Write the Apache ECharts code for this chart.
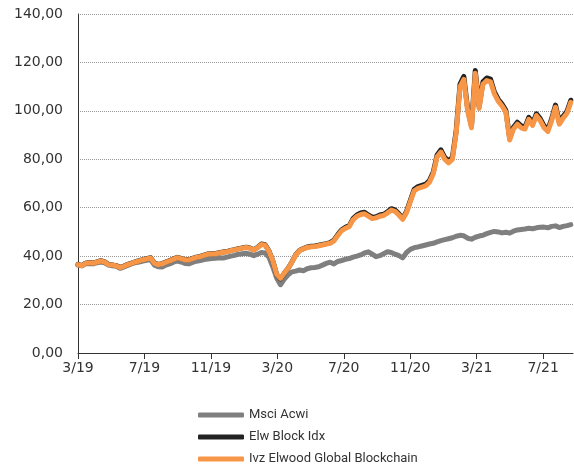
<!DOCTYPE html>
<html>
<head>
<meta charset="utf-8">
<script src="https://cdn.jsdelivr.net/npm/echarts@6/dist/echarts.min.js"></script>
<style>
html,body{margin:0;padding:0;background:#fff;}
#chart{width:574px;height:466px;}
</style>
</head>
<body>
<div id="chart"></div>
<script>
// Tick labels on the x axis (every 4 months starting 3/2019)
var xTickLabels = ['3/19','7/19','11/19','3/20','7/20','11/20','3/21','7/21'];
var seriesNames = ['Msci Acwi','Elw Block Idx','Ivz Elwood Global Blockchain'];

// Weekly values starting March 2019
var msciAcwi = [
 36.3,36.0,36.8,37.0,36.8,37.3,37.6,37.2,36.3,36.0,
 35.8,35.0,35.5,36.2,36.8,37.3,37.6,38.0,38.3,38.6,
 36.3,35.6,35.5,36.3,36.8,37.5,38.0,37.6,37.0,36.8,
 37.4,37.9,38.2,38.6,38.8,39.0,39.1,39.3,39.2,39.6,
 40.0,40.3,40.8,41.0,41.2,40.8,40.2,40.8,41.5,41.3,
 39.5,35.5,31.0,28.2,30.5,32.3,33.5,33.8,34.3,34.0,
 34.8,35.2,35.3,35.6,36.3,37.0,37.5,36.8,37.8,38.2,
 38.7,39.0,39.6,40.0,40.5,41.3,41.8,40.8,39.8,40.2,
 41.0,41.8,41.5,40.8,40.2,39.3,41.5,42.8,43.5,43.8,
 44.2,44.6,45.0,45.3,45.9,46.4,46.8,47.2,47.6,48.2,
 48.6,48.4,47.4,47.0,47.8,48.3,48.6,49.3,49.8,50.2,
 50.0,49.6,49.9,49.5,50.3,50.8,51.0,51.2,51.5,51.3,
 51.7,51.9,52.0,51.7,52.3,52.5,51.8,52.3,52.6,53.0
];
var elwBlockIdx = [
 36.6,36.1,37.1,37.4,37.1,37.7,38.1,37.6,36.6,36.4,
 36.1,35.4,35.9,36.6,37.1,37.7,38.1,38.6,39.0,39.4,
 37.1,36.6,36.9,37.6,38.1,38.9,39.5,39.1,38.6,38.5,
 39.1,39.6,39.9,40.4,40.9,41.0,41.1,41.4,41.7,41.9,
 42.4,42.7,43.1,43.4,43.7,43.4,42.6,43.6,45.0,44.7,
 42.1,38.0,32.4,30.6,32.9,35.0,37.6,40.6,42.4,43.1,
 43.8,44.1,44.2,44.5,44.8,45.2,45.6,46.6,48.9,50.9,
 51.9,52.6,55.5,57.0,57.8,58.1,57.0,56.0,56.3,57.0,
 57.3,58.3,59.6,59.1,57.5,55.6,58.5,63.0,67.6,68.7,
 69.2,69.7,71.2,74.7,81.8,83.9,80.8,79.3,80.8,91.8,
 111.0,114.2,100.8,93.8,116.7,101.8,112.0,113.6,113.1,107.8,
 104.8,102.8,100.2,88.7,93.2,95.3,93.8,93.3,97.3,94.8,
 98.8,96.8,93.8,92.3,96.8,102.4,95.3,97.8,99.8,104.4
];
var ivzBlockchain = [
 36.5,36.0,37.0,37.3,37.0,37.6,38.0,37.5,36.5,36.3,
 36.0,35.3,35.8,36.5,37.0,37.6,38.0,38.5,38.9,39.3,
 37.0,36.5,36.8,37.5,38.0,38.8,39.4,39.0,38.5,38.4,
 39.0,39.5,39.8,40.3,40.8,40.9,41.0,41.3,41.6,41.8,
 42.3,42.6,43.0,43.3,43.6,43.3,42.5,43.5,44.8,44.5,
 42.0,38.0,32.5,30.8,33.0,35.0,37.5,40.5,42.3,43.0,
 43.6,43.9,44.0,44.3,44.6,45.0,45.3,46.3,48.5,50.5,
 51.5,52.2,55.0,56.5,57.2,57.5,56.5,55.5,55.8,56.5,
 56.8,57.8,59.0,58.5,57.0,55.2,58.0,62.5,67.0,68.0,
 68.5,69.0,70.5,74.0,81.0,83.0,80.0,78.5,80.0,91.0,
 110.0,113.0,100.0,93.0,115.5,101.0,111.0,112.5,112.0,107.0,
 104.0,102.0,99.5,88.0,92.5,94.5,93.0,92.5,96.5,94.0,
 98.0,96.0,93.0,91.5,96.0,101.5,94.5,97.0,99.0,103.5
];

var WEEK = 7 / 30.4375; // one week expressed in months
function toPairs(arr){ return arr.map(function(v,i){ return [i*WEEK, v]; }); }

var axisFont = 'DejaVu Sans';
var tickPositions = xTickLabels.map(function(_,i){ return i*4; });

var chart = echarts.init(document.getElementById('chart'));
chart.setOption({
  animation: false,
  backgroundColor: '#ffffff',
  grid: { left: 78, top: 14, right: 1, bottom: 113, containLabel: false },
  xAxis: {
    type: 'value', min: 0, max: 29.8, interval: 4,
    axisLine: { show: true, lineStyle: { color: '#333333', width: 1 } },
    axisTick: { show: true, length: 6, lineStyle: { color: '#333333' }, customValues: tickPositions },
    axisLabel: {
      customValues: tickPositions,
      color: '#333333', fontFamily: axisFont, fontSize: 14, margin: 8,
      formatter: function(v){ return xTickLabels[Math.round(v/4)] || ''; }
    },
    splitLine: { show: false }
  },
  yAxis: {
    type: 'value', min: 0, max: 140, interval: 20,
    axisLine: { show: true, lineStyle: { color: '#333333', width: 1 } },
    axisTick: { show: false },
    axisLabel: {
      color: '#333333', fontFamily: axisFont, fontSize: 14, margin: 15,
      formatter: function(v){ return v.toFixed(2).replace('.', ','); }
    },
    splitLine: { show: true, lineStyle: { color: '#999999', type: [1,1], width: 1 } }
  },
  legend: {
    orient: 'vertical', left: 198, top: 408, height: 58, padding: 0,
    itemWidth: 46, itemHeight: 5, itemGap: 8,
    icon: 'roundRect',
    textStyle: { fontFamily: 'Roboto', fontSize: 13, color: '#333333', lineHeight: 14 },
    data: seriesNames
  },
  series: [
    { name: seriesNames[0], type: 'line', data: toPairs(msciAcwi), showSymbol: false, symbol: 'none',
      color: '#7f7f7f', lineStyle: { width: 5, color: '#7f7f7f', join: 'round', cap: 'round' }, z: 2 },
    { name: seriesNames[1], type: 'line', data: toPairs(elwBlockIdx), showSymbol: false, symbol: 'none',
      color: '#222222', lineStyle: { width: 5, color: '#222222', join: 'round', cap: 'round' }, z: 3 },
    { name: seriesNames[2], type: 'line', data: toPairs(ivzBlockchain), showSymbol: false, symbol: 'none',
      color: '#f79646', lineStyle: { width: 5, color: '#f79646', join: 'round', cap: 'round' }, z: 4 }
  ]
});
</script>
</body>
</html>
